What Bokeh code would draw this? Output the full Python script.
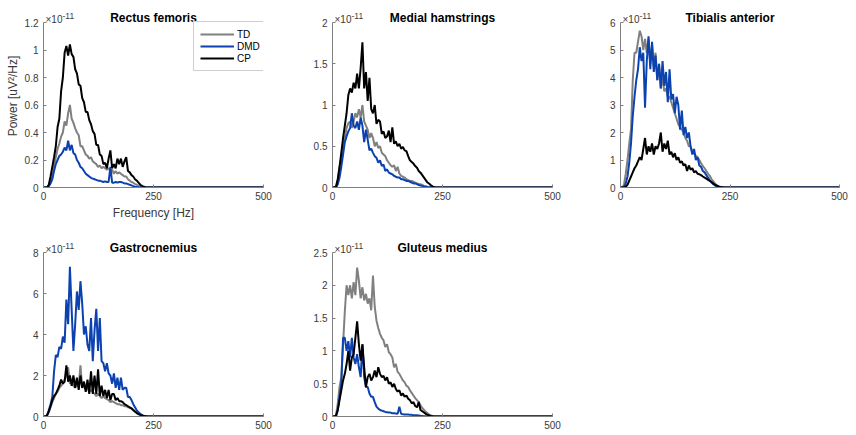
from bokeh.plotting import figure
from bokeh.layouts import row, column
from bokeh.models import (FixedTicker, CustomJSTickFormatter, Legend, LegendItem,
                          Label, Range1d)
from bokeh.embed import file_html
from bokeh.resources import INLINE

# ---------------- data (power in units of 1e-11 uV^2/Hz) ----------------
FREQ = [0, 4, 8, 12, 16, 20, 24, 28, 32, 36,
        40, 44, 48, 52, 56, 60, 64, 68, 72, 76,
        80, 84, 88, 92, 96, 100, 104, 108, 112, 116,
        120, 124, 128, 132, 136, 140, 144, 148, 152, 156,
        160, 164, 168, 172, 176, 180, 184, 188, 192, 196,
        200, 204, 208, 212, 216, 220, 224, 228, 232, 236, 240,
        500]

GROUPS = ["TD", "DMD", "CP"]
MUSCLES = ["Rectus femoris", "Medial hamstrings", "Tibialis anterior",
           "Gastrocnemius", "Gluteus medius"]
Y_MAX = [1.2, 2, 6, 8, 2.5]
Y_TICKS = [[0, 0.2, 0.4, 0.6, 0.8, 1, 1.2],
           [0, 0.5, 1, 1.5, 2],
           [0, 1, 2, 3, 4, 5, 6],
           [0, 2, 4, 6, 8],
           [0, 0.5, 1, 1.5, 2, 2.5]]
X_TICKS = [0, 250, 500]
EXPONENT = ["×10", "-11"]

RF_TD = [0, 0, 0, 0.01, 0.04, 0.08, 0.16, 0.22, 0.28, 0.32,
         0.37, 0.4, 0.48, 0.45, 0.54, 0.6, 0.5, 0.47, 0.43, 0.4,
         0.38, 0.3, 0.3, 0.27, 0.24, 0.23, 0.21, 0.22, 0.19, 0.18,
         0.17, 0.15, 0.16, 0.14, 0.15, 0.14, 0.13, 0.14, 0.12, 0.13,
         0.1, 0.12, 0.1, 0.11, 0.1, 0.09, 0.08, 0.08, 0.06, 0.05,
         0.04, 0.035, 0.025, 0.02, 0.012, 0.008, 0.004, 0.002, 0, 0, 0,
         0]
RF_DMD = [0, 0, 0, 0.01, 0.03, 0.06, 0.12, 0.17, 0.2, 0.23,
          0.24, 0.26, 0.29, 0.27, 0.34, 0.27, 0.31, 0.25, 0.24, 0.2,
          0.18, 0.15, 0.14, 0.12, 0.1, 0.09, 0.08, 0.07, 0.065, 0.06,
          0.055, 0.05, 0.05, 0.045, 0.04, 0.045, 0.04, 0.04, 0.15, 0.035,
          0.035, 0.04, 0.035, 0.04, 0.04, 0.035, 0.03, 0.03, 0.025, 0.02,
          0.015, 0.01, 0.006, 0.003, 0.001, 0, 0, 0, 0, 0, 0,
          0]
RF_CP = [0, 0, 0, 0.02, 0.08, 0.15, 0.22, 0.3, 0.44, 0.5,
         0.7, 0.8, 0.98, 1.03, 0.96, 1.04, 0.97, 0.95, 0.86, 0.83,
         0.75, 0.74, 0.65, 0.62, 0.55, 0.55, 0.49, 0.46, 0.41, 0.39,
         0.31, 0.31, 0.24, 0.23, 0.17, 0.18, 0.14, 0.21, 0.27, 0.14,
         0.17, 0.14, 0.21, 0.17, 0.21, 0.15, 0.19, 0.22, 0.12, 0.11,
         0.09, 0.08, 0.06, 0.05, 0.035, 0.02, 0.012, 0.005, 0.002, 0, 0,
         0]

MH_TD = [0, 0, 0.01, 0.1, 0.25, 0.35, 0.5, 0.6, 0.72, 0.78,
         0.8, 0.72, 0.8, 0.9, 0.85, 0.95, 0.85, 1.0, 0.8, 0.75,
         0.7, 0.6, 0.66, 0.6, 0.5, 0.55, 0.48, 0.5, 0.42, 0.4,
         0.38, 0.33, 0.3, 0.27, 0.25, 0.27, 0.2, 0.25, 0.17, 0.14,
         0.13, 0.12, 0.1, 0.09, 0.08, 0.08, 0.07, 0.06, 0.05, 0.04,
         0.04, 0.03, 0.02, 0.015, 0.01, 0.006, 0.003, 0.001, 0, 0, 0,
         0]
MH_DMD = [0, 0, 0, 0.04, 0.12, 0.25, 0.4, 0.55, 0.62, 0.68,
          0.72, 0.9, 0.75, 0.72, 0.8, 0.7, 0.85, 0.75, 0.55, 0.7,
          0.58, 0.45, 0.47, 0.42, 0.38, 0.36, 0.3, 0.33, 0.26, 0.28,
          0.2, 0.22, 0.18, 0.17, 0.16, 0.14, 0.13, 0.12, 0.12, 0.1,
          0.1, 0.09, 0.08, 0.08, 0.07, 0.06, 0.05, 0.05, 0.04, 0.03,
          0.025, 0.02, 0.012, 0.008, 0.004, 0.002, 0, 0, 0, 0, 0,
          0]
MH_CP = [0, 0, 0.01, 0.1, 0.25, 0.42, 0.6, 0.75, 0.9, 1.12,
         1.2, 1.15, 1.27, 1.2, 1.38, 1.2, 1.45, 1.76, 1.2, 1.4,
         1.05, 1.33, 0.95, 0.9, 1.0, 0.77, 0.82, 0.8, 0.65, 0.68,
         0.6, 0.62, 0.69, 0.55, 0.73, 0.53, 0.56, 0.5, 0.53, 0.47,
         0.49, 0.45, 0.44, 0.38, 0.33, 0.31, 0.29, 0.26, 0.24, 0.2,
         0.18, 0.15, 0.12, 0.09, 0.06, 0.045, 0.025, 0.01, 0.004, 0, 0,
         0]

TA_TD = [0, 0, 0.1, 0.5, 1.0, 1.6, 2.1, 3.9, 4.9, 4.9,
         5.3, 5.7, 5.5, 5.0, 5.4, 4.9, 5.4, 4.5, 5.2, 4.4,
         4.9, 3.9, 4.5, 3.6, 4.0, 3.5, 3.6, 3.3, 3.3, 3.1,
         2.9, 2.7, 2.5, 2.3, 2.2, 2.1, 2.0, 1.8, 1.7, 1.5,
         1.5, 1.3, 1.25, 1.15, 1.1, 1.0, 0.88, 0.78, 0.7, 0.6,
         0.5, 0.42, 0.3, 0.22, 0.14, 0.08, 0.04, 0.02, 0.01, 0, 0,
         0]
TA_DMD = [0, 0, 0.02, 0.15, 0.4, 0.9, 1.6, 2.6, 3.3, 3.9,
          4.3, 5.1, 4.6, 4.9, 2.9, 4.6, 5.5, 4.3, 5.3, 4.2,
          4.8, 3.9, 4.5, 3.6, 4.6, 3.7, 4.2, 3.1, 4.3, 3.2,
          3.4, 2.7, 3.3, 3.0, 2.1, 2.8, 1.9, 2.2, 1.8, 2.0,
          1.5, 1.2, 1.4, 1.0, 1.1, 0.8, 0.75, 0.6, 0.55, 0.45,
          0.35, 0.25, 0.18, 0.12, 0.07, 0.04, 0.02, 0.01, 0, 0, 0,
          0]
TA_CP = [0, 0, 0, 0.03, 0.1, 0.25, 0.4, 0.55, 0.7, 0.8,
         0.95, 1.1, 1.0, 1.4, 1.8, 1.2, 1.5, 1.3, 1.6, 1.2,
         1.5, 1.4, 1.6, 2.0, 1.3, 1.6, 1.4, 1.7, 1.2, 1.3,
         1.1, 1.25, 1.0, 1.1, 0.9, 0.95, 0.8, 0.85, 0.6, 0.8,
         0.65, 0.7, 0.55, 0.6, 0.5, 0.48, 0.45, 0.4, 0.36, 0.32,
         0.28, 0.24, 0.2, 0.14, 0.1, 0.07, 0.04, 0.02, 0.01, 0, 0,
         0]

GA_TD = [0, 0, 0.04, 0.2, 0.45, 0.7, 0.9, 1.1, 1.2, 1.4,
         1.5, 1.6, 1.8, 2.0, 2.4, 1.6, 1.7, 1.5, 1.4, 1.6,
         1.5, 2.5, 1.4, 1.5, 1.3, 1.4, 1.2, 1.3, 1.2, 1.1,
         1.0, 1.1, 1.0, 0.9, 1.0, 0.9, 0.85, 0.8, 0.7, 0.75,
         0.7, 0.65, 0.6, 0.6, 0.55, 0.55, 0.5, 0.5, 0.45, 0.42,
         0.38, 0.3, 0.24, 0.18, 0.12, 0.08, 0.04, 0.02, 0.01, 0, 0,
         0]
GA_DMD = [0, 0, 0.05, 0.3, 0.6, 0.95, 2.2, 3.0, 2.9, 3.4,
          3.3, 3.9, 3.6, 5.7, 4.5, 7.3, 5.2, 3.2, 4.5, 6.1,
          5.2, 6.6, 5.5, 4.0, 4.4, 3.5, 3.2, 4.8, 2.7, 4.2,
          5.25, 3.2, 4.8, 2.7, 2.6, 2.2, 2.6, 2.1, 2.0, 1.6,
          2.1, 1.4, 1.9, 1.3, 1.9, 1.3, 1.4, 1.4, 0.95, 0.95,
          0.8, 0.6, 0.45, 0.3, 0.2, 0.13, 0.07, 0.03, 0.01, 0, 0,
          0]
GA_CP = [0, 0, 0.05, 0.25, 0.5, 0.8, 1.0, 1.1, 1.3, 1.5,
         1.8, 1.6, 1.7, 2.5, 1.7, 2.0, 1.5, 2.0, 1.4, 1.9,
         1.3, 2.0, 1.4, 1.7, 1.2, 1.8, 1.1, 2.2, 1.1, 2.0,
         1.1, 2.3, 1.0, 1.5, 1.0, 1.3, 0.9, 1.3, 0.8, 1.1,
         1.1, 0.8, 0.9, 0.75, 0.75, 0.7, 0.6, 0.55, 0.5, 0.45,
         0.4, 0.32, 0.24, 0.17, 0.12, 0.08, 0.05, 0.02, 0.01, 0, 0,
         0]

GM_TD = [0, 0, 0.02, 0.2, 0.45, 0.6, 1.1, 1.6, 2.0, 1.85,
         2.0, 1.8, 2.05, 1.85, 2.27, 2.07, 1.8, 1.97, 1.77, 1.87,
         1.72, 1.8, 1.62, 2.15, 1.67, 1.46, 1.35, 1.26, 1.2, 1.16,
         1.06, 1.1, 0.98, 0.95, 0.9, 0.75, 0.8, 0.68, 0.65, 0.6,
         0.55, 0.52, 0.47, 0.45, 0.4, 0.36, 0.32, 0.28, 0.25, 0.22,
         0.17, 0.13, 0.1, 0.07, 0.05, 0.03, 0.015, 0.006, 0.002, 0, 0,
         0]
GM_DMD = [0, 0, 0.01, 0.1, 0.3, 0.5, 1.2, 1.2, 1.0, 1.15,
          0.9, 1.2, 0.9, 0.8, 0.95, 0.75, 0.6, 1.1, 0.6, 0.45,
          0.45, 0.35, 0.3, 0.3, 0.22, 0.15, 0.12, 0.1, 0.09, 0.08,
          0.07, 0.065, 0.06, 0.06, 0.05, 0.05, 0.045, 0.04, 0.15, 0.04,
          0.035, 0.03, 0.03, 0.03, 0.025, 0.025, 0.02, 0.02, 0.02, 0.015,
          0.01, 0.008, 0.005, 0.003, 0.001, 0, 0, 0, 0, 0, 0,
          0]
GM_CP = [0, 0, 0.01, 0.1, 0.25, 0.4, 0.55, 0.65, 0.8, 1.0,
         0.7, 0.9, 0.95, 1.2, 1.45, 1.1, 0.85, 1.1, 0.75, 0.45,
         0.6, 0.65, 0.55, 0.6, 0.7, 0.6, 0.75, 0.65, 0.6, 0.62,
         0.55, 0.6, 0.5, 0.52, 0.45, 0.5, 0.42, 0.38, 0.4, 0.32,
         0.35, 0.3, 0.32, 0.27, 0.25, 0.2, 0.22, 0.16, 0.14, 0.22,
         0.1, 0.08, 0.06, 0.04, 0.025, 0.015, 0.008, 0.003, 0, 0, 0,
         0]

SERIES = [[RF_TD, RF_DMD, RF_CP],
          [MH_TD, MH_DMD, MH_CP],
          [TA_TD, TA_DMD, TA_CP],
          [GA_TD, GA_DMD, GA_CP],
          [GM_TD, GM_DMD, GM_CP]]

# ---------------- style / geometry ----------------
COLORS = ["#808080", "#0b42b0", "#000000"]
FONT = "Liberation Sans"
AXIS_COL = "#808080"
TEXT_COL = "#3a3a3a"

# width, height, border left/right/top/bottom, frame height, data-area height
GEOM = [(290, 222, 43, 27, 4, 35, 183, 165),
        (280, 222, 42, 18, 4, 35, 183, 165),
        (284, 222, 50, 15, 4, 35, 183, 165),
        (290, 212, 43, 27, 10, 18, 184, 164),
        (280, 212, 42, 18, 10, 18, 184, 164)]


def make_panel(i):
    w, h, l, r, t, b, fh, dh = GEOM[i]
    ymax = Y_MAX[i]
    p = figure(width=w, height=h, min_border_left=l, min_border_right=r,
               min_border_top=t, min_border_bottom=b,
               x_range=Range1d(0, 500), y_range=Range1d(0, ymax * fh / dh),
               output_backend="svg", toolbar_location=None)
    p.outline_line_color = None
    p.xgrid.visible = False
    p.ygrid.visible = False
    p.background_fill_color = "white"
    p.border_fill_color = "white"

    p.xaxis.ticker = FixedTicker(ticks=X_TICKS)
    p.yaxis.ticker = FixedTicker(ticks=Y_TICKS[i])
    p.yaxis.bounds = (0, ymax)
    p.yaxis.formatter = CustomJSTickFormatter(
        code="return String(Math.round(tick*100)/100);")
    for ax in (p.xaxis[0], p.yaxis[0]):
        ax.axis_line_color = AXIS_COL
        ax.major_tick_line_color = AXIS_COL
        ax.major_tick_in = 3
        ax.major_tick_out = 0
        ax.minor_tick_line_color = None
        ax.major_label_text_font = FONT
        ax.major_label_text_font_size = "10px"
        ax.major_label_text_color = TEXT_COL
        ax.axis_label_text_font = FONT
        ax.axis_label_text_font_size = "12px"
        ax.axis_label_text_font_style = "normal"
        ax.axis_label_text_color = TEXT_COL
    p.xaxis.major_label_standoff = 4
    p.yaxis.major_label_standoff = 5

    rends = []
    for k in range(3):
        rr = p.line(FREQ, SERIES[i][k], line_color=COLORS[k], line_width=2)
        rends.append(rr)

    # panel title (centred over the axes)
    p.add_layout(Label(x=250, y=ymax, y_offset=5, text=MUSCLES[i],
                       text_font=FONT, text_font_size="12px",
                       text_font_style="bold", text_color="#000000",
                       text_align="center", text_baseline="alphabetic"))
    # exponent marker
    p.add_layout(Label(x=0, y=ymax, x_offset=2, y_offset=3, text=EXPONENT[0],
                       text_font=FONT, text_font_size="10px",
                       text_color=TEXT_COL, text_baseline="alphabetic"))
    p.add_layout(Label(x=0, y=ymax, x_offset=19, y_offset=7, text=EXPONENT[1],
                       text_font=FONT, text_font_size="8.5px",
                       text_color=TEXT_COL, text_baseline="alphabetic"))

    if i == 0:
        p.yaxis.axis_label = "Power [uV²/Hz]"
        p.yaxis.axis_label_standoff = 2
        p.xaxis.axis_label = "Frequency [Hz]"
        p.xaxis.axis_label_standoff = 3
        items = [LegendItem(label=GROUPS[k], renderers=[rends[k]]) for k in range(3)]
        leg = Legend(items=items, location=(150, 116), margin=0, padding=6,
                     spacing=0, glyph_width=34, glyph_height=12,
                     label_height=12, label_standoff=3,
                     label_text_font=FONT, label_text_font_size="10px",
                     label_text_color="#000000",
                     border_line_color="#a0a0a0", border_line_width=1,
                     background_fill_color="white", background_fill_alpha=1)
        p.add_layout(leg)
    return p


figs = [make_panel(i) for i in range(5)]
layout = column(row(figs[0], figs[1], figs[2]), row(figs[3], figs[4]))

open("out.html", "w").write(file_html(layout, INLINE))
